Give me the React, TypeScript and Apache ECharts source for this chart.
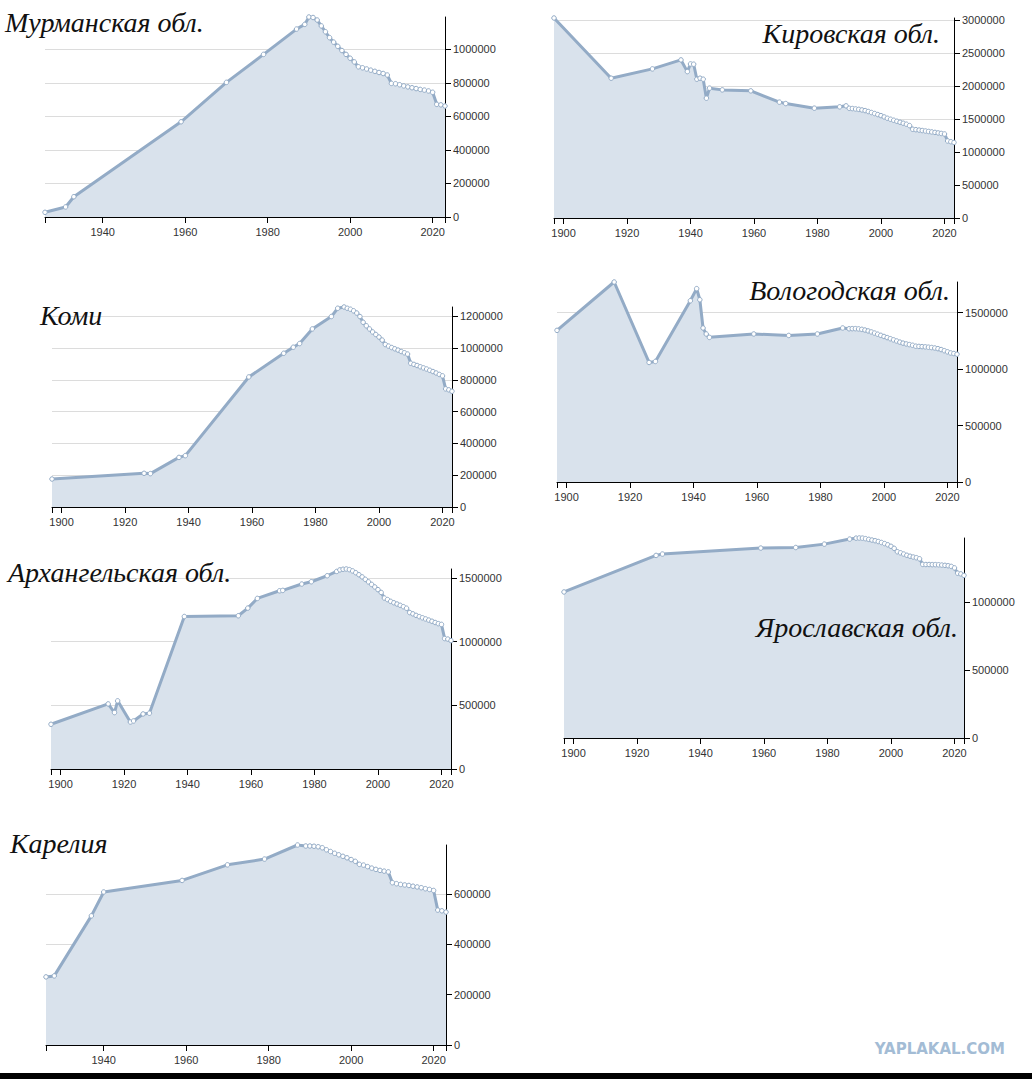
import React, { useEffect, useRef } from 'react'
import * as echarts from 'echarts'

// ---- data ----
const murmanskYears = [1926, 1931, 1933, 1959, 1970, 1979, 1987, 1989, 1990, 1991, 1992, 1993, 1994, 1995, 1996, 1997, 1998, 1999, 2000, 2001, 2002, 2003, 2004, 2005, 2006, 2007, 2008, 2009, 2010, 2011, 2012, 2013, 2014, 2015, 2016, 2017, 2018, 2019, 2020, 2021, 2022, 2023]
const murmanskPop = [28000, 60000, 121000, 568000, 803000, 970000, 1121000, 1149000, 1193000, 1190000, 1175000, 1140000, 1105000, 1070000, 1043000, 1018000, 993000, 970000, 947000, 925000, 896000, 890000, 883000, 876000, 869000, 862000, 856000, 847000, 797000, 795000, 789000, 782000, 776000, 771000, 766000, 761000, 757000, 752000, 744000, 672000, 669000, 662000]

const kirovYears = [1897, 1915, 1928, 1937, 1939, 1940, 1941, 1942, 1943, 1944, 1945, 1946, 1950, 1959, 1968, 1970, 1979, 1987, 1989, 1990, 1991, 1992, 1993, 1994, 1995, 1996, 1997, 1998, 1999, 2000, 2001, 2002, 2003, 2004, 2005, 2006, 2007, 2008, 2009, 2010, 2011, 2012, 2013, 2014, 2015, 2016, 2017, 2018, 2019, 2020, 2021, 2022, 2023]
const kirovPop = [3030000, 2118000, 2259000, 2395000, 2218000, 2334000, 2330000, 2103000, 2118000, 2103000, 1815000, 1967000, 1941000, 1926000, 1755000, 1734000, 1664000, 1684000, 1699000, 1662000, 1658000, 1652000, 1646000, 1637000, 1627000, 1613000, 1598000, 1583000, 1567000, 1551000, 1531000, 1511000, 1496000, 1481000, 1466000, 1451000, 1436000, 1421000, 1400000, 1344000, 1338000, 1332000, 1325000, 1318000, 1311000, 1304000, 1297000, 1289000, 1281000, 1273000, 1167000, 1156000, 1144000]

const komiYears = [1897, 1926, 1928, 1937, 1939, 1959, 1970, 1973, 1975, 1979, 1985, 1987, 1989, 1990, 1991, 1992, 1993, 1994, 1995, 1996, 1997, 1998, 1999, 2000, 2001, 2002, 2003, 2004, 2005, 2006, 2007, 2008, 2009, 2010, 2011, 2012, 2013, 2014, 2015, 2016, 2017, 2018, 2019, 2020, 2021, 2022, 2023]
const komiPop = [176000, 212000, 210000, 312000, 323000, 818000, 967000, 1005000, 1028000, 1120000, 1198000, 1250000, 1258000, 1250000, 1244000, 1234000, 1220000, 1198000, 1162000, 1140000, 1120000, 1101000, 1085000, 1069000, 1050000, 1022000, 1012000, 1003000, 995000, 987000, 978000, 970000, 962000, 904000, 897000, 890000, 882000, 875000, 868000, 860000, 852000, 843000, 834000, 825000, 743000, 737000, 728000]

const vologdaYears = [1897, 1915, 1926, 1928, 1939, 1941, 1942, 1943, 1944, 1945, 1959, 1970, 1979, 1987, 1989, 1990, 1991, 1992, 1993, 1994, 1995, 1996, 1997, 1998, 1999, 2000, 2001, 2002, 2003, 2004, 2005, 2006, 2007, 2008, 2009, 2010, 2011, 2012, 2013, 2014, 2015, 2016, 2017, 2018, 2019, 2020, 2021, 2022, 2023]
const vologdaPop = [1342000, 1770000, 1058000, 1067000, 1604000, 1711000, 1613000, 1363000, 1310000, 1280000, 1310000, 1297000, 1310000, 1363000, 1356000, 1357000, 1357000, 1355000, 1351000, 1345000, 1337000, 1328000, 1318000, 1308000, 1298000, 1288000, 1278000, 1268000, 1258000, 1248000, 1238000, 1229000, 1222000, 1216000, 1210000, 1202000, 1200000, 1198000, 1196000, 1193000, 1190000, 1186000, 1180000, 1172000, 1162000, 1152000, 1142000, 1137000, 1131000]

const arkhYears = [1897, 1915, 1917, 1918, 1922, 1923, 1926, 1928, 1939, 1956, 1959, 1962, 1969, 1970, 1976, 1979, 1984, 1987, 1988, 1989, 1990, 1991, 1992, 1993, 1994, 1995, 1996, 1997, 1998, 1999, 2000, 2001, 2002, 2003, 2004, 2005, 2006, 2007, 2008, 2009, 2010, 2011, 2012, 2013, 2014, 2015, 2016, 2017, 2018, 2019, 2020, 2021, 2022, 2023]
const arkhPop = [351000, 511000, 443000, 535000, 369000, 377000, 432000, 438000, 1197000, 1203000, 1263000, 1339000, 1399000, 1402000, 1452000, 1470000, 1517000, 1551000, 1563000, 1568000, 1570000, 1565000, 1555000, 1541000, 1525000, 1508000, 1489000, 1469000, 1449000, 1429000, 1408000, 1386000, 1342000, 1330000, 1316000, 1305000, 1295000, 1285000, 1274000, 1262000, 1228000, 1218000, 1206000, 1196000, 1187000, 1178000, 1169000, 1160000, 1150000, 1141000, 1135000, 1024000, 1020000, 1008000]

const yarYears = [1897, 1926, 1928, 1959, 1970, 1979, 1987, 1989, 1990, 1991, 1992, 1993, 1994, 1995, 1996, 1997, 1998, 1999, 2000, 2001, 2002, 2003, 2004, 2005, 2006, 2007, 2008, 2009, 2010, 2011, 2012, 2013, 2014, 2015, 2016, 2017, 2018, 2019, 2020, 2021, 2022, 2023]
const yarPop = [1074000, 1343000, 1353000, 1397000, 1401000, 1426000, 1463000, 1470000, 1471000, 1470000, 1466000, 1461000, 1456000, 1451000, 1445000, 1438000, 1430000, 1421000, 1410000, 1395000, 1370000, 1362000, 1353000, 1344000, 1337000, 1331000, 1326000, 1318000, 1277000, 1276000, 1276000, 1275000, 1275000, 1274000, 1272000, 1270000, 1267000, 1262000, 1251000, 1212000, 1207000, 1196000]

const kareliaYears = [1926, 1928, 1937, 1940, 1959, 1970, 1979, 1987, 1989, 1990, 1991, 1992, 1993, 1994, 1995, 1996, 1997, 1998, 1999, 2000, 2001, 2002, 2003, 2004, 2005, 2006, 2007, 2008, 2009, 2010, 2011, 2012, 2013, 2014, 2015, 2016, 2017, 2018, 2019, 2020, 2021, 2022, 2023]
const kareliaPop = [271000, 275000, 514000, 609000, 655000, 717000, 740000, 796000, 792000, 792000, 791000, 789000, 785000, 777000, 770000, 763000, 757000, 751000, 745000, 738000, 731000, 719000, 716000, 710000, 704000, 699000, 695000, 692000, 689000, 646000, 642000, 639000, 637000, 635000, 632000, 629000, 626000, 622000, 619000, 615000, 537000, 534000, 529000]

const yearLabels = [1900, 1920, 1940, 1960, 1980, 2000, 2020]

// layout of the seven panels (page pixels)
const panels = [
  { name: 'Мурманская обл.', years: murmanskYears, pop: murmanskPop, step: 200000, left: 45, top: 17, tx: 5, ty: 22, align: 'left' },
  { name: 'Кировская обл.', years: kirovYears, pop: kirovPop, step: 500000, left: 554, top: 18, tx: 940, ty: 33, align: 'right' },
  { name: 'Коми', years: komiYears, pop: komiPop, step: 200000, left: 52, top: 307, tx: 40, ty: 315, align: 'left' },
  { name: 'Вологодская обл.', years: vologdaYears, pop: vologdaPop, step: 500000, left: 557, top: 282, tx: 950, ty: 290, align: 'right' },
  { name: 'Архангельская обл.', years: arkhYears, pop: arkhPop, step: 500000, left: 51, top: 569, tx: 8, ty: 572, align: 'left' },
  { name: 'Ярославская обл.', years: yarYears, pop: yarPop, step: 500000, left: 564, top: 538, tx: 958, ty: 627, align: 'right' },
  { name: 'Карелия', years: kareliaYears, pop: kareliaPop, step: 200000, left: 46, top: 845, tx: 10, ty: 843, align: 'left' },
]

const LINE = '#93abc6'
const AREA = '#d9e2ec'
const labelFont = {
  fontSize: 11,
  color: '#333',
  fontFamily: '"Liberation Sans", Arial, sans-serif',
  formatter: (v: number) => String(v),
}

const App: React.FC = () => {
  const ref = useRef<HTMLDivElement>(null)

  useEffect(() => {
    if (!ref.current) return
    const chart = echarts.init(ref.current, undefined, { renderer: 'svg' })

    const option: echarts.EChartsOption = {
      animation: false,
      backgroundColor: '#fff',
      grid: panels.map(p => ({ left: p.left, top: p.top, width: 400, height: 200 })),
      xAxis: panels.map((p, i) => {
        const lo = p.years[0]
        const hi = p.years[p.years.length - 1]
        const labs = yearLabels.filter(y => y > lo && y < hi)
        return {
          type: 'value',
          gridIndex: i,
          min: lo,
          max: hi,
          axisLine: { onZero: false, lineStyle: { color: '#000', width: 1 } },
          axisTick: { show: true, length: 6, customValues: [lo, ...labs, hi], lineStyle: { color: '#000' } },
          axisLabel: { ...labelFont, margin: 9, customValues: labs },
          splitLine: { show: false },
        }
      }),
      yAxis: panels.map((p, i) => ({
        type: 'value',
        gridIndex: i,
        position: 'right',
        min: 0,
        max: Math.max(...p.pop),
        interval: p.step,
        axisLine: { show: true, onZero: false, lineStyle: { color: '#000', width: 1 } },
        axisTick: { show: true, length: 6, lineStyle: { color: '#000' } },
        axisLabel: { ...labelFont, margin: 8, showMaxLabel: false },
        splitLine: { show: true, showMinLine: false, showMaxLine: false, lineStyle: { color: '#dcdcdc', width: 1 } },
      })),
      series: panels.map((p, i) => ({
        type: 'line',
        xAxisIndex: i,
        yAxisIndex: i,
        data: p.years.map((y, j) => [y, p.pop[j]]),
        symbol: 'circle',
        symbolSize: 4.5,
        showAllSymbol: true,
        lineStyle: { color: LINE, width: 3 },
        itemStyle: { color: '#fff', borderColor: LINE, borderWidth: 1 },
        areaStyle: { color: AREA, opacity: 1 },
      })),
      graphic: [
        ...panels.map(p => ({
          type: 'text',
          x: p.tx,
          y: p.ty,
          z: 100,
          style: {
            text: p.name,
            font: 'italic 28px "Liberation Serif", "DejaVu Serif", serif',
            fill: '#111',
            textAlign: p.align,
            textVerticalAlign: 'middle',
            verticalAlign: 'middle',
          },
        })),
        {
          type: 'text',
          x: 1005,
          y: 1049,
          style: {
            text: 'YAPLAKAL.COM',
            font: 'bold 15px "DejaVu Sans", sans-serif',
            fill: '#a3bcd5',
            textAlign: 'right',
            textVerticalAlign: 'middle',
            verticalAlign: 'middle',
          },
        },
        {
          type: 'rect',
          shape: { x: 0, y: 1073, width: 1032, height: 6 },
          style: { fill: '#000' },
        },
      ],
    }

    chart.setOption(option)
    return () => chart.dispose()
  }, [])

  return (
    <div
      ref={ref}
      style={{ position: 'absolute', left: 0, top: 0, width: 1032, height: 1079, background: '#fff' }}
    />
  )
}

export default App
